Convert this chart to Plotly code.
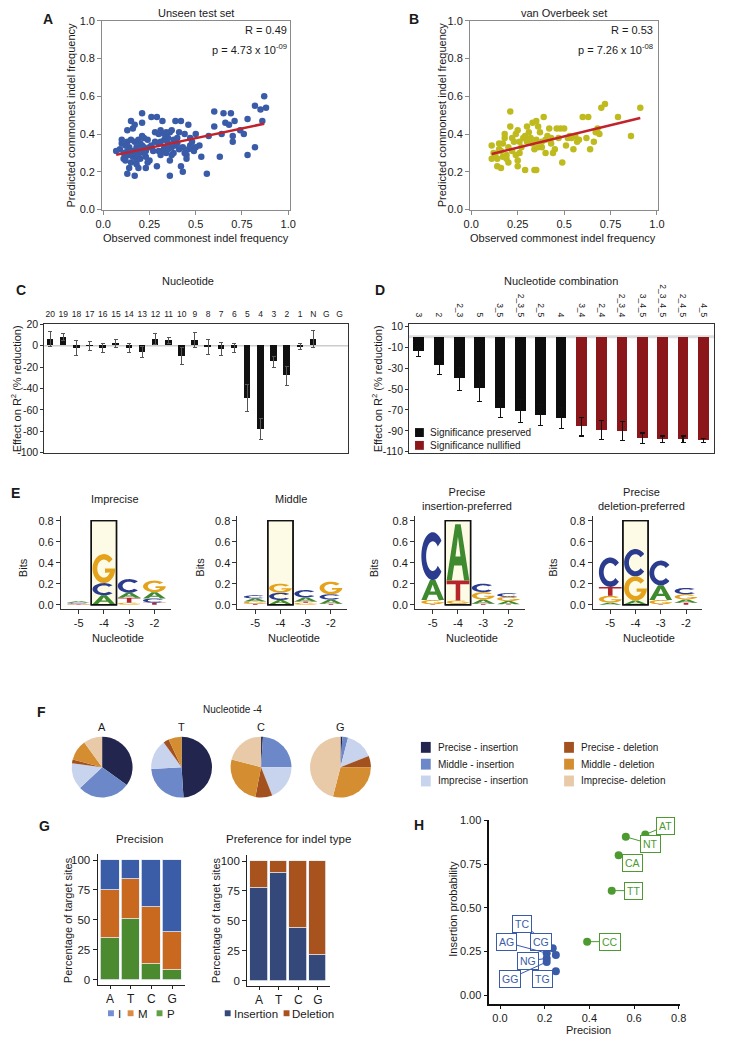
import plotly.graph_objects as go
import numpy as np

W, H = 731, 1042
FONT = "Liberation Sans, Arial, Helvetica, sans-serif"

# ---------------- DATA ----------------
# A: unseen test set
a_observed = [0.07,0.09,0.10,0.10,0.11,0.11,0.12,0.12,0.13,0.13,
 0.13,0.14,0.14,0.14,0.15,0.15,0.15,0.16,0.16,0.16,
 0.17,0.17,0.17,0.18,0.18,0.18,0.19,0.19,0.19,0.20,
 0.20,0.21,0.21,0.21,0.21,0.22,0.22,0.23,0.23,0.24,
 0.24,0.25,0.25,0.26,0.28,0.29,0.29,0.30,0.30,0.31,
 0.31,0.32,0.32,0.33,0.33,0.34,0.34,0.35,0.35,0.36,
 0.36,0.37,0.37,0.38,0.38,0.39,0.39,0.40,0.41,0.42,
 0.42,0.43,0.43,0.44,0.45,0.45,0.46,0.46,0.47,0.48,
 0.49,0.50,0.50,0.52,0.53,0.56,0.57,0.60,0.60,0.63,
 0.64,0.65,0.66,0.68,0.69,0.70,0.70,0.71,0.74,0.76,
 0.78,0.78,0.82,0.82,0.85,0.86,0.87,0.88,0.12,0.13,
 0.15,0.17,0.18,0.20,0.22,0.23,0.26,0.27,0.28,0.31,
 0.33,0.35,0.36,0.37,0.40,0.41,0.44,0.47,0.48,0.30]
a_predicted = [0.31,0.32,0.35,0.37,0.30,0.27,0.26,0.34,0.19,0.36,
 0.42,0.29,0.22,0.33,0.47,0.37,0.25,0.43,0.31,0.28,
 0.18,0.45,0.36,0.26,0.33,0.24,0.37,0.29,0.22,0.31,
 0.27,0.51,0.39,0.46,0.34,0.38,0.30,0.22,0.28,0.37,
 0.25,0.33,0.26,0.49,0.41,0.23,0.49,0.35,0.40,0.29,
 0.42,0.47,0.31,0.33,0.37,0.30,0.41,0.35,0.32,0.18,
 0.26,0.42,0.33,0.37,0.30,0.34,0.47,0.38,0.32,0.47,
 0.23,0.20,0.33,0.40,0.29,0.27,0.32,0.45,0.34,0.36,
 0.31,0.33,0.40,0.34,0.28,0.19,0.39,0.52,0.44,0.28,
 0.40,0.51,0.46,0.45,0.51,0.39,0.36,0.47,0.42,0.40,
 0.29,0.48,0.33,0.55,0.53,0.47,0.60,0.54,0.28,0.31,
 0.31,0.30,0.29,0.35,0.33,0.31,0.34,0.31,0.36,0.36,
 0.40,0.38,0.41,0.29,0.35,0.41,0.30,0.38,0.33,0.31]
a_fit_x = [0.07, 0.87]
a_fit_y = [0.29, 0.455]
a_stats = ["R = 0.49", "p = 4.73 x 10<sup>-09</sup>"]

# B: van Overbeek set
b_observed = [0.11,0.11,0.12,0.13,0.14,0.14,0.15,0.15,0.16,0.16,
 0.17,0.17,0.18,0.18,0.19,0.19,0.20,0.20,0.21,0.21,
 0.22,0.23,0.24,0.24,0.25,0.25,0.25,0.26,0.27,0.28,
 0.29,0.29,0.30,0.30,0.31,0.32,0.33,0.33,0.34,0.34,
 0.35,0.35,0.35,0.36,0.36,0.37,0.38,0.39,0.40,0.40,
 0.41,0.42,0.43,0.44,0.45,0.46,0.47,0.48,0.49,0.50,
 0.51,0.52,0.53,0.55,0.56,0.57,0.58,0.60,0.62,0.63,
 0.64,0.66,0.67,0.68,0.69,0.70,0.72,0.79,0.86,0.91,
 0.22,0.26,0.31,0.38,0.43,0.54]
b_predicted = [0.34,0.27,0.30,0.29,0.23,0.27,0.32,0.35,0.22,0.31,
 0.35,0.28,0.38,0.40,0.29,0.27,0.25,0.33,0.52,0.44,
 0.31,0.36,0.40,0.29,0.23,0.26,0.42,0.30,0.33,0.38,
 0.21,0.39,0.44,0.36,0.41,0.38,0.46,0.35,0.21,0.32,
 0.47,0.21,0.37,0.44,0.33,0.41,0.36,0.49,0.30,0.37,
 0.39,0.43,0.35,0.30,0.32,0.43,0.38,0.43,0.25,0.43,
 0.34,0.38,0.39,0.32,0.39,0.36,0.37,0.49,0.38,0.49,
 0.32,0.36,0.41,0.43,0.40,0.54,0.56,0.49,0.39,0.54,
 0.38,0.36,0.37,0.33,0.38,0.38]
b_fit_x = [0.11, 0.91]
b_fit_y = [0.295, 0.485]
b_stats = ["R = 0.53", "p = 7.26 x 10<sup>-08</sup>"]

# C: single nucleotide effect
c_labels = ["20","19","18","17","16","15","14","13","12","11","10","9","8","7","6",
            "5","4","3","2","1","N","G","G"]
c_effect = [6, 8, -2, -0.5, -2, 2, -2, -6, 6, 5, -10, 5, -1, -3, -2,
            -49, -78, -15, -28, -1, 6]
c_err = [7, 3, 7, 4, 4, 4, 4, 5, 5, 3, 8, 7, 7, 6, 4, 12.5, 10, 5, 9, 3, 8]
c_yticks = [20, 0, -20, -40, -60, -80, -100]

# D: nucleotide combinations
d_labels = ["3","2","2_3","5","3_5","2_3_5","2_5","4","3_4","2_4","2_3_4",
            "3_4_5","2_3_4_5","2_4_5","4_5"]
d_effect = [-14, -27.5, -40, -49, -68, -71, -75, -78, -86, -89, -90, -97, -98, -98, -99]
d_err = [5, 8.5, 11, 13, 9, 11, 10, 10, 9, 9, 9, 5, 3, 3, 2]
d_signif = ["preserved"]*8 + ["nullified"]*7
d_yticks = [10, -10, -30, -50, -70, -90, -110]

# E: sequence logos (letters bottom->top, bits) at positions -5..-2
e_positions = [-5, -4, -3, -2]
imp_letters = [["T","G","C","A"], ["T","A","C","G"], ["G","T","A","C"], ["T","C","A","G"]]
imp_bits = [[0.004,0.008,0.01,0.012], [0.005,0.085,0.116,0.276], [0.02,0.047,0.047,0.13], [0.02,0.04,0.06,0.11]]
mid_letters = [["T","G","A","C"], ["T","A","C","G"], ["G","T","A","C"], ["T","A","C","G"]]
mid_bits = [[0.01,0.02,0.03,0.03], [0.005,0.04,0.07,0.085], [0.02,0.01,0.04,0.07], [0.01,0.04,0.05,0.12]]
pins_letters = [["T","G","A","C"], ["C","G","T","A"], ["T","A","G","C"], ["T","A","G","C"]]
pins_bits = [[0.005,0.04,0.19,0.455], [0.01,0.03,0.19,0.535], [0.01,0.04,0.07,0.08], [0.005,0.03,0.04,0.035]]
pdel_letters = [["A","G","T","C"], ["T","A","G","C"], ["T","G","A","C"], ["T","A","G","C"]]
pdel_bits = [[0.02,0.065,0.085,0.28], [0.005,0.035,0.23,0.26], [0.005,0.04,0.14,0.235], [0.02,0.03,0.05,0.06]]

# F: pies for nucleotide -4
f_nucleotides = ["A", "T", "C", "G"]
f_categories = ["Precise - insertion", "Middle - insertion", "Imprecise - insertion",
                "Precise - deletion", "Middle - deletion", "Imprecise- deletion"]
f_A = [0.35, 0.28, 0.14, 0.02, 0.11, 0.10]
f_T = [0.49, 0.25, 0.16, 0.03, 0.07, 0.0]
f_C = [0.01, 0.24, 0.19, 0.09, 0.26, 0.21]
f_G = [0.01, 0.03, 0.15, 0.06, 0.29, 0.46]

# G: precision / indel preference
g_nuc = ["A", "T", "C", "G"]
g_precise = [35, 51, 13, 8]
g_middle = [40, 33, 48, 32]
g_imprecise = [25, 16, 39, 60]
g_insertion = [77, 90, 44, 21]
g_deletion = [23, 10, 56, 79]

# H: precision vs insertion probability
h_green_lab = ["AT", "NT", "CA", "TT", "CC"]
h_green_prec = [0.65, 0.563, 0.531, 0.50, 0.39]
h_green_ins = [0.919, 0.906, 0.80, 0.598, 0.306]
h_blue_lab = ["TC", "CG", "AG", "NG", "GG", "TG"]
h_blue_prec = [0.236, 0.25, 0.209, 0.209, 0.209, 0.25]
h_blue_ins = [0.268, 0.23, 0.24, 0.21, 0.19, 0.136]

# ---------------- STYLE / LAYOUT HELPERS ----------------
BLUE_PT = "#3a5ca8"
OLIVE = "#bfbb1f"
RED_LINE = "#c1222b"
LOGO_COL = {"A": "#3f8a2f", "C": "#2b3b8e", "G": "#e4a31b", "T": "#b5262a"}
PIE_COL = ["#22254d", "#6c88c8", "#c8d4ee", "#a3521f", "#d58d31", "#e8caa8"]
G_COL = {"I": "#3b5ca6", "M": "#c9691f", "P": "#4b8a2f"}
G_KEY = {"I": "#7391d2", "M": "#d98c46", "P": "#62a045"}
INS_COL, DEL_COL = "#34497a", "#a8521e"
H_GREEN, H_BLUE = "#4d9a30", "#3a5ca8"

def fx(p):
    return p / W

def fy(p):
    return 1 - p / H

anns = []
shapes = []

def note(x, y, text, size=11, xanchor="center", yanchor="middle", bold=False, angle=0, color="#1a1a1a"):
    anns.append(dict(x=fx(x), y=fy(y), xref="paper", yref="paper",
                     text=f"<b>{text}</b>" if bold else text, showarrow=False,
                     font=dict(size=size, color=color, family=FONT),
                     xanchor=xanchor, yanchor=yanchor, textangle=angle))

def box(x0, y0, x1, y1, color):
    shapes.append(dict(type="rect", xref="paper", yref="paper", x0=fx(x0), x1=fx(x1),
                       y0=fy(y1), y1=fy(y0), fillcolor=color, line=dict(width=0)))

layout_axes = {}

def axis_pair(n, xdom, ydom, xopts, yopts):
    s = "" if n == 1 else str(n)
    base = dict(showgrid=False, zeroline=False, tickfont=dict(size=11, family=FONT, color="#1a1a1a"))
    xa = dict(base); xa.update(domain=[fx(xdom[0]), fx(xdom[1])], anchor="y" + s); xa.update(xopts)
    ya = dict(base); ya.update(domain=[fy(ydom[1]), fy(ydom[0])], anchor="x" + s); ya.update(yopts)
    layout_axes["xaxis" + s] = xa
    layout_axes["yaxis" + s] = ya
    return "x" + s, "y" + s

fig = go.Figure()

# ---------------- A & B ----------------
frame = dict(showline=True, mirror=True, linecolor="#8a8a8a", linewidth=1,
             ticks="outside", ticklen=4, tickcolor="#8a8a8a")
sc_x = dict(frame, tickvals=[0, 0.25, 0.5, 0.75, 1], ticktext=["0.0", "0.25", "0.5", "0.75", "1.0"])
sc_y = dict(frame, range=[0, 1], tickvals=[0, 0.2, 0.4, 0.6, 0.8, 1.0],
            ticktext=["0.0", "0.2", "0.4", "0.6", "0.8", "1.0"])

xa, ya = axis_pair(1, (97, 289), (15, 206), dict(sc_x, range=[-0.006, 1.012]), sc_y)
fig.add_trace(go.Scatter(x=a_observed, y=a_predicted, mode="markers", xaxis=xa, yaxis=ya,
                         marker=dict(color=BLUE_PT, size=6.5), showlegend=False))
fig.add_trace(go.Scatter(x=a_fit_x, y=a_fit_y, mode="lines", xaxis=xa, yaxis=ya,
                         line=dict(color=RED_LINE, width=2.5), showlegend=False))

xb, yb = axis_pair(2, (472, 664), (15, 206), dict(sc_x, range=[-0.007, 1.007]), sc_y)
fig.add_trace(go.Scatter(x=b_observed, y=b_predicted, mode="markers", xaxis=xb, yaxis=yb,
                         marker=dict(color=OLIVE, size=6.5), showlegend=False))
fig.add_trace(go.Scatter(x=b_fit_x, y=b_fit_y, mode="lines", xaxis=xb, yaxis=yb,
                         line=dict(color=RED_LINE, width=2.5), showlegend=False))

note(42, 13, "A", 14, bold=True)
note(193, 7, "Unseen test set", 11)
note(287, 24, a_stats[0], 11, xanchor="right")
note(287, 43, a_stats[1], 11, xanchor="right")
note(65, 110, "Predicted commonest indel frequency", 11, angle=-90)
note(193, 235, "Observed commonest indel frequency", 11)
note(415, 13, "B", 14, bold=True)
note(568, 7, "van Overbeek set", 11)
note(661, 24, b_stats[0], 11, xanchor="right")
note(661, 43, b_stats[1], 11, xanchor="right")
note(443, 110, "Predicted commonest indel frequency", 11, angle=-90)
note(567, 235, "Observed commonest indel frequency", 11)

# ---------------- C ----------------
bar_frame = dict(showline=True, mirror=True, linecolor="#333", linewidth=1)
xc, yc = axis_pair(3, (38, 348), (322, 452),
                   dict(bar_frame, side="top", range=[-0.45, 22.67], tickvals=list(range(len(c_labels))),
                        ticktext=c_labels, ticks="outside", ticklen=3, tickcolor="rgba(0,0,0,0)",
                        tickfont=dict(size=8.5, family=FONT, color="#1a1a1a")),
                   dict(bar_frame, range=[-100, 20], tickvals=c_yticks, ticktext=[str(v) for v in c_yticks],
                        ticks="outside", ticklen=3, tickcolor="#333",
                        tickfont=dict(size=10.5, family=FONT, color="#1a1a1a")))
fig.add_trace(go.Bar(x=list(range(len(c_effect))), y=c_effect, width=0.5, xaxis=xc, yaxis=yc,
                     marker=dict(color="#111", line=dict(width=0)),
                     error_y=dict(type="data", array=c_err, color="#555", thickness=1, width=2),
                     showlegend=False))
shapes.append(dict(type="line", xref="x3 domain", yref="y3", x0=0, x1=1, y0=0, y1=0,
                   line=dict(color="#cccccc", width=1.5), layer="below"))
note(14, 287, "C", 14, bold=True)
note(185, 278, "Nucleotide", 11)
note(9, 387, "Effect on R<sup>2</sup> (% reduction)", 11, angle=-90)

# ---------------- D ----------------
xd, yd = axis_pair(4, (410, 721), (322, 452),
                   dict(bar_frame, side="top", range=[-0.48, 14.53], tickvals=list(range(len(d_labels))),
                        ticktext=d_labels, tickangle=90, ticks="outside", ticklen=3, tickcolor="rgba(0,0,0,0)",
                        tickfont=dict(size=8.5, family=FONT, color="#1a1a1a")),
                   dict(bar_frame, range=[-111, 12], tickvals=d_yticks, ticktext=[str(v) for v in d_yticks],
                        ticks="outside", ticklen=3, tickcolor="#333",
                        tickfont=dict(size=10.5, family=FONT, color="#1a1a1a")))
d_colors = ["#0d0d0d" if s == "preserved" else "#8c171b" for s in d_signif]
fig.add_trace(go.Bar(x=list(range(len(d_effect))), y=d_effect, width=0.52, xaxis=xd, yaxis=yd,
                     marker=dict(color=d_colors, line=dict(width=0)),
                     error_y=dict(type="data", array=d_err, color="#111", thickness=1.2, width=2.5),
                     showlegend=False))
shapes.append(dict(type="line", xref="x4 domain", yref="y4", x0=0, x1=1, y0=0, y1=0,
                   line=dict(color="#dddddd", width=3), layer="below"))
note(380, 287, "D", 14, bold=True)
note(565, 278, "Nucleotide combination", 11)
note(377, 387, "Effect on R<sup>2</sup> (% reduction)", 11, angle=-90)
box(416, 427, 425, 436, "#0d0d0d")
box(416, 440, 425, 449, "#8c171b")
note(429, 431.5, "Significance preserved", 10, xanchor="left")
note(429, 444.5, "Significance nullified", 10, xanchor="left")

# ---------------- E ----------------
def unit_letter(letter):
    polys = []
    if letter == "A":
        polys.append([(0, 0), (0.38, 1), (0.62, 1), (1, 0), (0.77, 0), (0.67, 0.27),
                      (0.33, 0.27), (0.23, 0)])
        polys.append([(0.39, 0.43), (0.5, 0.78), (0.61, 0.43)])
    elif letter == "T":
        polys.append([(0, 1), (1, 1), (1, 0.82), (0.6, 0.82), (0.6, 0), (0.4, 0), (0.4, 0.82), (0, 0.82)])
    elif letter == "C":
        t1 = np.radians(np.linspace(40, 320, 36))
        t2 = t1[::-1]
        pts = [(0.5 + 0.5 * np.cos(t), 0.5 + 0.5 * np.sin(t)) for t in t1]
        pts += [(0.5 + 0.29 * np.cos(t), 0.5 + 0.31 * np.sin(t)) for t in t2]
        polys.append(pts)
    elif letter == "G":
        t1 = np.radians(np.linspace(40, 360, 40))
        t2 = np.radians(np.linspace(335, 40, 36))
        pts = [(0.5 + 0.5 * np.cos(t), 0.5 + 0.5 * np.sin(t)) for t in t1]
        pts += [(0.55, 0.5), (0.55, 0.36)]
        pts += [(0.5 + 0.29 * np.cos(t), 0.5 + 0.31 * np.sin(t)) for t in t2]
        polys.append(pts)
    return polys

def letter_shape(letter, xc, y0, h, xr, yr):
    path = ""
    for poly in unit_letter(letter):
        coords = [(xc - 0.45 + 0.9 * u, y0 + h * v) for u, v in poly]
        path += "M" + " L".join(f"{a:.4f},{b:.5f}" for a, b in coords) + " Z "
    return dict(type="path", path=path.strip(), xref=xr, yref=yr, fillcolor=LOGO_COL[letter],
                line=dict(width=0), fillrule="evenodd", layer="above")

logo_panels = [
    (5, (55, 167), imp_letters, imp_bits, "Imprecise", 110, 17),
    (6, (235, 347), mid_letters, mid_bits, "Middle", 290, 197),
    (7, (416, 528), pins_letters, pins_bits, "Precise<br>insertion-preferred", 469, 375),
    (8, (597, 709), pdel_letters, pdel_bits, "Precise<br>deletion-preferred", 647, 557),
]
logo_axis = dict(showline=True, linecolor="#333", linewidth=1, ticks="outside", ticklen=4, tickcolor="#333")
for n, xdom, letters, bits, title, tx, bx in logo_panels:
    xe, ye = axis_pair(n, xdom, (516.4, 610),
                       dict(logo_axis, range=[-5.7, -1.35], tickvals=e_positions,
                            ticktext=[str(p) for p in e_positions]),
                       dict(logo_axis, range=[-0.04, 0.84], tickvals=[0, 0.2, 0.4, 0.6, 0.8],
                            ticktext=["0.0", "0.2", "0.4", "0.6", "0.8"]))
    fig.add_trace(go.Scatter(x=[None], y=[None], xaxis=xe, yaxis=ye, showlegend=False))
    shapes.append(dict(type="rect", xref=xe, yref=ye, x0=-4.5, x1=-3.5, y0=0, y1=0.8,
                       fillcolor="#fdfbe6", line=dict(color="#111", width=1.4), layer="below"))
    for pos, lets, hs in zip(e_positions, letters, bits):
        y0 = 0.0
        for L, h in zip(lets, hs):
            shapes.append(letter_shape(L, pos, y0, h, xe, ye))
            y0 += h
    note(tx, 499, title, 11)
    note(bx, 568, "Bits", 11, angle=-90)
    note((xdom[0] + xdom[1]) / 2 + 2, 639, "Nucleotide", 11)
note(9, 493, "E", 14, bold=True)
for n, xdom, *_ in logo_panels:
    shapes.append(dict(type="rect", xref=f"x{n}", yref=f"y{n}", x0=-4.5, x1=-3.5, y0=0, y1=0.8,
                       fillcolor="rgba(0,0,0,0)", line=dict(color="#111", width=1.4), layer="above"))

# ---------------- F ----------------
pie_vals = [f_A, f_T, f_C, f_G]
pie_centers = [97, 178, 259, 340]
pie_d = 62
pie_cy = 770
for nuc, vals, cx in zip(f_nucleotides, pie_vals, pie_centers):
    fig.add_trace(go.Pie(values=vals, labels=f_categories, sort=False, direction="clockwise", rotation=0,
                         marker=dict(colors=PIE_COL, line=dict(width=0)), textinfo="none",
                         domain=dict(x=[fx(cx - pie_d / 2), fx(cx + pie_d / 2)],
                                     y=[fy(pie_cy + pie_d / 2), fy(pie_cy - pie_d / 2)]),
                         showlegend=False, hoverinfo="label+percent"))
    note(cx, 729, nuc, 11)
note(35, 714, "F", 14, bold=True)
note(230, 712, "Nucleotide -4", 10)
leg_rows = [750, 767, 784]
for i, (cat, col) in enumerate(zip(f_categories, PIE_COL)):
    colx = 422 if i < 3 else 568
    ry = leg_rows[i % 3]
    box(colx, ry - 5.5, colx + 10, ry + 5.5, col)
    note(colx + 15, ry, cat, 10, xanchor="left")

# ---------------- G ----------------
g_axis_x = dict(showline=True, linecolor="#222", linewidth=1.2, ticks="outside", ticklen=3, tickcolor="#222",
                range=[-0.6, 3.6], tickvals=[0, 1, 2, 3], ticktext=g_nuc,
                tickfont=dict(size=12, family=FONT, color="#1a1a1a"))
g_axis_y = dict(showline=True, linecolor="#222", linewidth=1.2, ticks="outside", ticklen=4, tickcolor="#222",
                range=[-4.1, 105], tickvals=[0, 25, 50, 75, 100], ticktext=["0", "25", "50", "75", "100"],
                tickfont=dict(size=11.5, family=FONT, color="#1a1a1a"))
xg1, yg1 = axis_pair(9, (92.4, 181), (858, 990), g_axis_x, g_axis_y)
for vals, key in [(g_precise, "P"), (g_middle, "M"), (g_imprecise, "I")]:
    fig.add_trace(go.Bar(x=list(range(4)), y=vals, width=0.9, xaxis=xg1, yaxis=yg1, showlegend=False,
                         marker=dict(color=G_COL[key], line=dict(color="#e8eef8", width=0.8))))
xg2, yg2 = axis_pair(10, (245, 329), (859, 991), g_axis_x, g_axis_y)
for vals, col in [(g_insertion, INS_COL), (g_deletion, DEL_COL)]:
    fig.add_trace(go.Bar(x=list(range(4)), y=vals, width=0.9, xaxis=xg2, yaxis=yg2, showlegend=False,
                         marker=dict(color=col, line=dict(color="#e8eef8", width=0.8))))
note(38, 830, "G", 14, bold=True)
note(135, 843, "Precision", 11.5)
note(287, 843, "Preference for indel type", 11.5)
note(63, 925, "Percentage of target sites", 11, angle=-90)
note(213, 925, "Percentage of target sites", 11, angle=-90)
for key, sx in [("I", 103), ("M", 123), ("P", 152.5)]:
    box(sx, 1016, sx + 6, 1022, G_KEY[key])
    note(sx + 8.5, 1019.5, key, 11.5, xanchor="left")
box(222, 1016, 228, 1022, INS_COL)
note(229, 1019.5, "Insertion", 11.5, xanchor="left")
box(282, 1016, 288, 1022, DEL_COL)
note(289, 1019.5, "Deletion", 11.5, xanchor="left")

# ---------------- H ----------------
xh, yh = axis_pair(11, (491.7, 686), (823, 1010),
                   dict(showline=True, linecolor="#111", linewidth=1.5, ticks="outside", ticklen=3,
                        tickcolor="#111", range=[-0.048, 0.805], tickvals=[0, 0.2, 0.4, 0.6, 0.8],
                        ticktext=["0.0", "0.2", "0.4", "0.6", "0.8"]),
                   dict(showline=True, linecolor="#111", linewidth=1.5, ticks="outside", ticklen=4,
                        tickcolor="#111", range=[-0.053, 1.005], tickvals=[0, 0.25, 0.5, 0.75, 1.0],
                        ticktext=["0.00", "0.25", "0.50", "0.75", "1.00"]))
fig.add_trace(go.Scatter(x=h_green_prec, y=h_green_ins, mode="markers", xaxis=xh, yaxis=yh,
                         marker=dict(color=H_GREEN, size=8), showlegend=False))
fig.add_trace(go.Scatter(x=h_blue_prec, y=h_blue_ins, mode="markers", xaxis=xh, yaxis=yh,
                         marker=dict(color=H_BLUE, size=8), showlegend=False))
green_offsets = [(0.089, 0.047), (0.109, -0.04), (0.064, -0.042), (0.099, 0.0), (0.102, 0.0)]
blue_label_pos = [(0.10, 0.409), (0.182, 0.306), (0.028, 0.302), (0.127, 0.196), (0.044, 0.094), (0.188, 0.094)]
for lab, px_, py_, off in zip(h_green_lab, h_green_prec, h_green_ins, green_offsets):
    anns.append(dict(x=px_, y=py_, xref=xh, yref=yh, ax=px_ + off[0], ay=py_ + off[1], axref=xh, ayref=yh,
                     text=lab, showarrow=True, arrowhead=0, arrowwidth=1, arrowcolor=H_GREEN, standoff=0,
                     font=dict(size=10.5, color=H_GREEN, family=FONT), bgcolor="white",
                     bordercolor=H_GREEN, borderwidth=1, borderpad=2))
for lab, px_, py_, pos in zip(h_blue_lab, h_blue_prec, h_blue_ins, blue_label_pos):
    anns.append(dict(x=px_, y=py_, xref=xh, yref=yh, ax=pos[0], ay=pos[1], axref=xh, ayref=yh,
                     text=lab, showarrow=True, arrowhead=0, arrowwidth=1, arrowcolor=H_BLUE, standoff=0,
                     font=dict(size=10.5, color=H_BLUE, family=FONT), bgcolor="white",
                     bordercolor=H_BLUE, borderwidth=1, borderpad=2))
note(420, 829, "H", 14, bold=True)
note(455, 913, "Insertion probability", 11, angle=-90)
note(593, 1036, "Precision", 11)

fig.update_layout(width=W, height=H, autosize=False, margin=dict(l=0, r=0, t=0, b=0),
                  paper_bgcolor="white", plot_bgcolor="white", barmode="stack", bargap=0,
                  font=dict(family=FONT, size=11, color="#1a1a1a"),
                  annotations=anns, shapes=shapes, showlegend=False, **layout_axes)
fig.write_html("out.html", config={"displayModeBar": False},
               post_script="document.body.style.margin='0';document.body.style.overflow='hidden';")
